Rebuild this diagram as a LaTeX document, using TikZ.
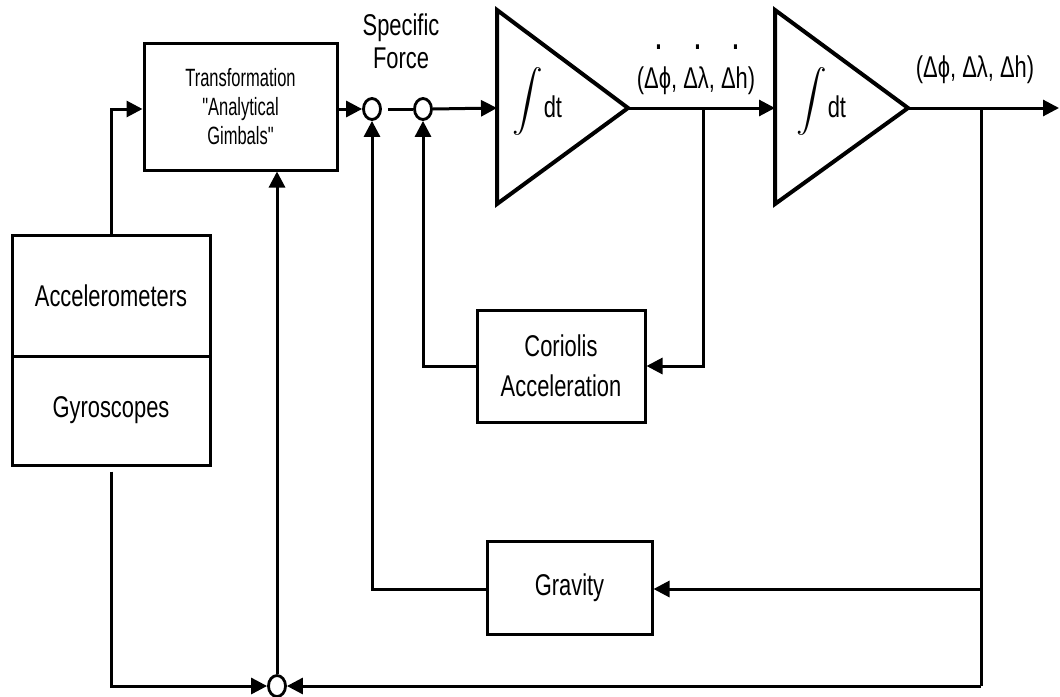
\documentclass[tikz,border=0pt]{standalone}
\usepackage{exscale}
\usepackage{graphicx}
\usepackage{fontspec}
\setmainfont[FakeStretch=0.73]{Liberation Sans}
\newfontfamily\narrowfont[FakeStretch=0.66]{Liberation Sans}
\usetikzlibrary{arrows.meta,shapes.geometric}
\newcommand\withdot[1]{\leavevmode\setbox0=\hbox{#1}\rlap{\hbox to \wd0{\hss\hspace{0.5em}\raisebox{1.3em}{\fontsize{44}{44}\selectfont.}\hss}}\box0}
\newcommand\bigint{\raisebox{8pt}{\resizebox*{!}{68pt}{\hbox{$\displaystyle\int$}}}}
\begin{document}
\begin{tikzpicture}[x=1pt,y=-1pt,
  blk/.style={draw,line width=3pt,inner sep=0pt,align=center,font=\fontsize{30}{33}\selectfont},
  sum/.style={draw,ellipse,line width=2.8pt,minimum width=17pt,minimum height=21pt,inner sep=0pt},
  conn/.style={line width=3pt},
  arr/.style={conn,-{Triangle[length=16pt,width=16pt]}},
  lbl/.style={inner sep=0pt,align=center,font=\fontsize{30}{33}\selectfont},
  tri/.style={line width=4pt,line join=miter}]
\useasboundingbox (0,0) rectangle (1060,696);

% blocks
\node[blk,minimum width=193pt,minimum height=127pt,font=\narrowfont\fontsize{25}{29}\selectfont] (trans) at (240.5,106.5) {Transformation\\"Analytical\\Gimbals"};
\node[blk,minimum width=198pt,minimum height=121pt] (accel) at (111,295.5) {Accelerometers};
\node[blk,minimum width=198pt,minimum height=109pt] (gyro) at (111,410.5) {Gyroscopes};
\node[blk,minimum width=168pt,minimum height=112pt,font=\fontsize{30}{40}\selectfont] (cor) at (561,366) {Coriolis\\Acceleration};
\node[blk,minimum width=165pt,minimum height=93pt] (grav) at (569.5,588) {Gravity};

% summing junctions
\node[sum] (s1) at (372,109) {};
\node[sum] (s2) at (423,109) {};
\node[sum] (s3) at (277,686) {};

% integrators
\draw[tri] (497,10) -- (628,108) -- (497,204) -- cycle;
\draw[tri] (775,10) -- (908,108) -- (775,204) -- cycle;
\coordinate (i1in) at (497,108);
\coordinate (i1out) at (628,108);
\coordinate (i2in) at (775,108);
\coordinate (i2out) at (908,108);
\node[anchor=base west,inner sep=0pt,font=\fontsize{30}{30}\selectfont] (int1) at (512,117) {\bigint\hspace{1pt}dt};
\node[anchor=base west,inner sep=0pt,font=\fontsize{30}{30}\selectfont] (int2) at (796,117) {\bigint\hspace{1pt}dt};

% labels
\node[lbl] (sf) at (401,41) {Specific\\Force};
\node[lbl,anchor=base] (dlab) at (696,88) {(\withdot{Δ}ϕ, \withdot{Δ}λ, \withdot{Δ}h)};
\node[lbl,anchor=base] (olab) at (975,77) {(Δϕ, Δλ, Δh)};

% branch points
\coordinate (b1) at (703,108);
\coordinate (b2) at (981,108);
\coordinate (b2g) at (981,589);
\coordinate (b2b) at (981,686);
\coordinate (out) at (1059,108);

% connectors
\draw[arr] (accel.north) |- ([yshift=-2.5pt]trans.west);
\draw[arr] (trans.east |- s1.west) -- (s1.west);
\draw[conn,shorten <=6pt] (s1.east) -- (s2.west);
\draw[arr] (s2.east) -- (i1in);
\draw[arr] (i1out) -- (i2in);
\draw[arr] (i2out) -- (out);
\draw[arr] (b1) |- (cor.east);
\draw[arr] (cor.west) -| (s2.south);
\draw[conn] (b2) -- (b2b);
\draw[arr] (b2g) -- (grav.east |- b2g);
\draw[arr] (grav.west |- b2g) -| (s1.south);
\draw[arr] (b2b) -- (s3.east);
\draw[arr,shorten <=5pt] (gyro.south) |- (s3.west);
\draw[arr] (s3.north) -- (trans.south -| s3.north);
\end{tikzpicture}
\end{document}
